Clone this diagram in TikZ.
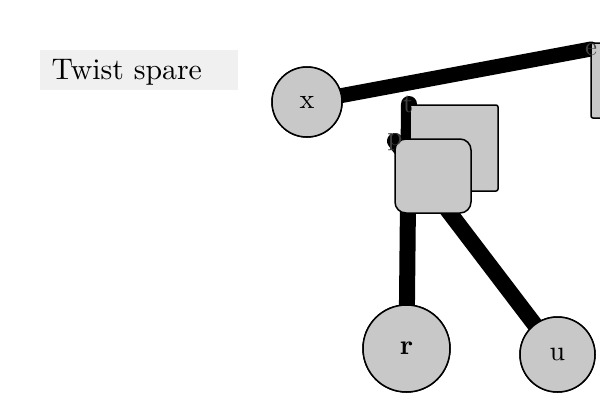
\documentclass[tikz,border=0pt]{standalone}
\usepackage{graphicx}
\begin{document}
\begin{tikzpicture}[x=1pt,y=-1pt,
  nodecirc/.style={circle,draw=black,line width=1.5pt,fill=nodegray,inner sep=0pt,font=\fontsize{10}{12}\selectfont},
  boxback/.style={draw=black,line width=1.5pt,fill=nodegray,rounded corners=2pt},
  boxfront/.style={draw=black,line width=1.5pt,fill=nodegray,rounded corners=11pt},
  link/.style={line width=16pt,line cap=round},
  dotlabel/.style={text=black!75,inner sep=0pt,font=\fontsize{10}{12}\selectfont}]
\definecolor{nodegray}{HTML}{C8C8C8}
\definecolor{titlegray}{HTML}{F0F0F0}
\useasboundingbox (0,0) rectangle (600,400);
\clip (0,0) rectangle (600,400);
% title
\node[fill=titlegray,minimum width=198pt,minimum height=40pt,inner sep=0pt,anchor=north west] (title) at (40,50) {};
\node[anchor=base west,inner sep=0pt,font=\fontsize{10}{12}\selectfont] (titletext) at (51.5,79) {\scalebox{2.98}{Twist spare}};
% anchor points
\coordinate (e) at (591,49);
\coordinate (t) at (409,104);
\coordinate (p) at (395,141);
% circles (positions)
\node[nodecirc,minimum size=70pt] (x) at (307,102) {};
\node[nodecirc,minimum size=87pt] (r) at (406.5,348.5) {};
\node[nodecirc,minimum size=75pt] (u) at (557.5,354.5) {};
% links
\draw[link,line width=15pt] (x.center) -- (e);
\draw[link] (t) -- (r.center);
\draw[link] (p) -- (u.center);
% boxes
\draw[boxback] (591,43) rectangle (640,118);
\draw[boxback] (410,105) rectangle (498,191);
\draw[boxfront] (395,139) rectangle (471,213);
% circles on top
\node[nodecirc,minimum size=70pt] (x2) at (x.center) {\scalebox{2.8}{x}};
\node[nodecirc,minimum size=87pt] (r2) at (r.center) {\scalebox{2.8}{\bfseries r}};
\node[nodecirc,minimum size=75pt] (u2) at (u.center) {\scalebox{2.8}{u}};
% labels
\node[dotlabel] (elab) at (591,50) {\scalebox{2.7}{e}};
\node[dotlabel] (tlab) at (408,104) {\scalebox{2.7}{t}};
\node[dotlabel] (plab) at (395,142) {\scalebox{2.7}{p}};
\end{tikzpicture}
\end{document}
